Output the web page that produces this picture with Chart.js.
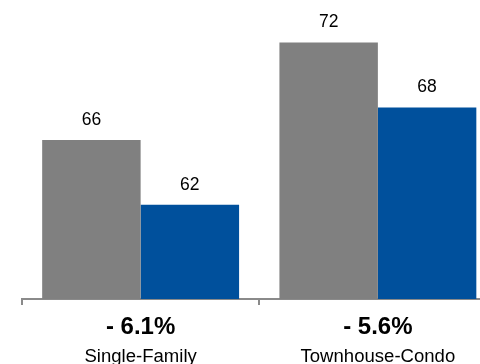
<!DOCTYPE html>
<html>
<head>
<meta charset="utf-8">
<script src="https://cdn.jsdelivr.net/npm/chart.js@4"></script>
<style>
  html, body { margin: 0; padding: 0; background: #fff; overflow: hidden; }
  #wrap { width: 520px; height: 364px; }
</style>
</head>
<body>
<div id="wrap"><canvas id="myChart" width="520" height="364"></canvas></div>
<script>
// chart data
const categories = ['Single-Family', 'Townhouse-Condo'];
const priorYear = [66, 72];
const currentYear = [62, 68];
const changes = ['- 6.1%', '- 5.6%'];

const FONT = "'Liberation Sans', Arial, Helvetica, sans-serif";

// draws the numbers over the bars and the two lines of text under the axis
const labelPlugin = {
  id: 'labels',
  afterDatasetsDraw(chart) {
    const ctx = chart.ctx;
    ctx.save();
    ctx.fillStyle = '#000';
    ctx.textAlign = 'center';
    ctx.textBaseline = 'alphabetic';

    ctx.font = '17.5px ' + FONT;
    chart.data.datasets.forEach((ds, d) => {
      chart.getDatasetMeta(d).data.forEach((bar, i) => {
        ctx.fillText(ds.data[i], bar.x, bar.y - 15);
      });
    });

    const xScale = chart.scales.x;
    const bottom = chart.chartArea.bottom;
    categories.forEach((cat, i) => {
      const x = xScale.getPixelForValue(i);
      ctx.font = 'bold 24px ' + FONT;
      ctx.fillText(changes[i], x, bottom + 35);
      // the category names are a little wider in the original
      ctx.save();
      ctx.translate(x, bottom + 63);
      ctx.scale(1.06, 1);
      ctx.font = '17.5px ' + FONT;
      ctx.fillText(cat, 0, 0);
      ctx.restore();
    });
    ctx.restore();
  }
};

const ctx = document.getElementById('myChart').getContext('2d');
const chart = new Chart(ctx, {
  type: 'bar',
  data: {
    labels: categories,
    datasets: [
      {
        label: 'Prior Year',
        data: priorYear,
        backgroundColor: '#808080',
        borderWidth: 0,
        categoryPercentage: 0.83,
        barPercentage: 1.0
      },
      {
        label: 'Current Year',
        data: currentYear,
        backgroundColor: '#00509c',
        borderWidth: 0,
        categoryPercentage: 0.83,
        barPercentage: 1.0
      }
    ]
  },
  options: {
    responsive: false,
    animation: false,
    layout: { padding: { left: 22, right: 23.5, top: 10, bottom: 59 } },
    plugins: {
      legend: { display: false },
      tooltip: { enabled: false }
    },
    scales: {
      x: {
        grid: {
          display: true,
          drawOnChartArea: false,
          drawTicks: true,
          tickLength: 6,
          color: '#8a8a8a',
          lineWidth: 2
        },
        border: { display: true, color: '#8a8a8a', width: 2 },
        ticks: { display: false }
      },
      y: {
        display: false,
        min: 56.2,
        max: 74
      }
    }
  },
  plugins: [labelPlugin]
});
</script>
</body>
</html>
